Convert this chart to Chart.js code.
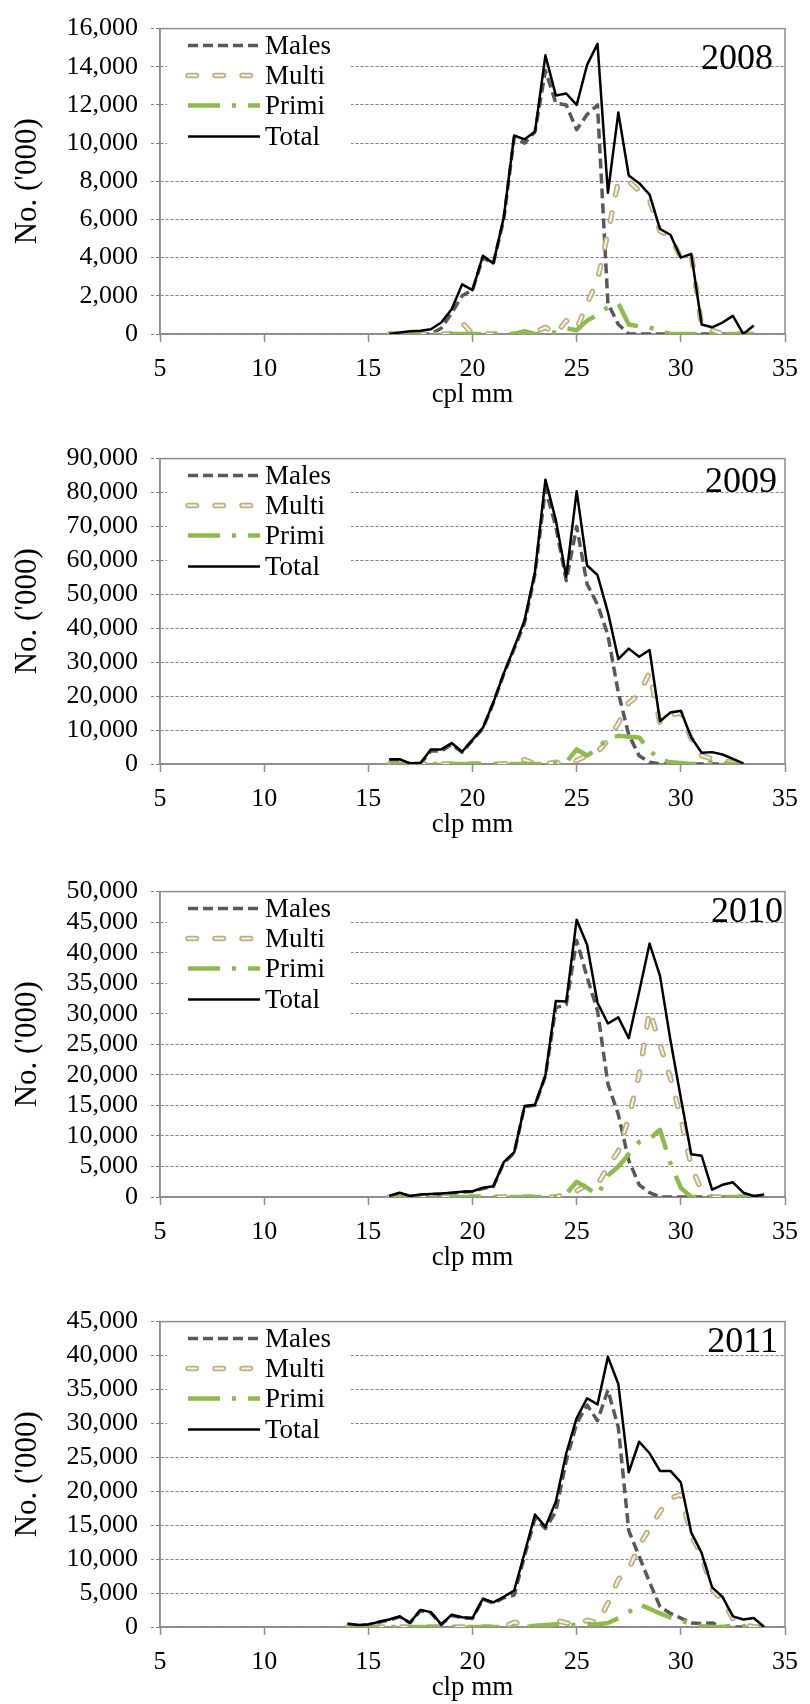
<!DOCTYPE html>
<html><head><meta charset="utf-8">
<script src="https://cdn.jsdelivr.net/npm/chart.js@4.4.1/dist/chart.umd.min.js"></script>
<style>
html,body{margin:0;padding:0;background:#fff;width:810px;height:1704px;overflow:hidden}
canvas{position:absolute;left:0}
</style></head><body>
<canvas id="c0" width="810" height="430" style="top:0px"></canvas>
<canvas id="c1" width="810" height="433" style="top:430px"></canvas>
<canvas id="c2" width="810" height="430" style="top:863px"></canvas>
<canvas id="c3" width="810" height="411" style="top:1293px"></canvas>
<script>
// ---------- data ----------
const years = ['2008', '2009', '2010', '2011'];
const xTitles = ['cpl mm', 'clp mm', 'clp mm', 'clp mm'];
const yTitle = "No. ('000)";
const seriesNames = ['Males', 'Multi', 'Primi', 'Total'];
const xMin = 5, xMax = 35, xStep = 5;
const yMaxes = [16000, 90000, 50000, 45000];
const ySteps = [2000, 10000, 5000, 5000];

const x2008 = [16,16.5,17,17.5,18,18.5,19,19.5,20,20.5,21,21.5,22,22.5,23,23.5,24,24.5,25,25.5,26,26.5,27,27.5,28,28.5,29,29.5,30,30.5,31,31.5,32,32.5,33,33.5];
const males2008 = [0,0,0,0,0,300,1100,2000,2300,4000,3700,6000,10300,10000,10600,13800,12100,12000,10700,11500,12000,1600,500,0,0,0,0,0,0,0,0,0,0,0,0,0];
const multi2008 = [0,0,0,0,0,0,0,600,0,0,0,0,0,0,100,350,0,700,250,1600,2800,5300,8000,8000,7500,7000,5400,5100,4000,4200,400,200,0,0,0,0];
const primi2008 = [0,0,0,0,0,0,0,0,0,0,0,0,0,150,0,0,100,300,200,700,1000,1400,1600,500,400,350,150,0,0,0,0,0,0,0,0,0];
const total2008 = [0,80,150,170,250,600,1300,2600,2300,4100,3700,6100,10400,10200,10600,14600,12500,12600,12000,14100,15200,7400,11600,8300,7900,7300,5500,5200,4000,4200,500,350,600,950,0,450];

const x2009 = [16,16.5,17,17.5,18,18.5,19,19.5,20,20.5,21,21.5,22,22.5,23,23.5,24,24.5,25,25.5,26,26.5,27,27.5,28,28.5,29,29.5,30,30.5,31,31.5,32,32.5,33];
const males2009 = [1000,1000,100,100,3800,3800,5800,3400,7000,10500,18000,26500,34000,41500,56000,81000,70000,54000,70000,53000,47000,38000,21000,8600,2400,500,0,0,0,0,0,0,0,0,0];
const multi2009 = [0,0,0,0,0,0,0,0,0,0,0,0,300,1300,0,0,500,0,1000,2500,3500,7000,12000,18000,20500,27000,12000,14500,15000,7500,2500,1500,1000,500,0];
const primi2009 = [0,0,0,0,0,0,0,0,0,0,0,0,0,0,0,0,300,500,4300,2500,4500,7600,8300,8000,7800,4000,1300,500,300,0,0,500,300,0,0];
const total2009 = [1400,1400,200,200,4300,4300,6200,3600,7100,10700,18100,26700,34300,42400,56600,83800,71900,55200,80400,58500,55700,44700,30900,34000,31600,33600,12600,15200,15700,7800,3300,3500,2800,1500,200];

const x2010 = [16,16.5,17,17.5,18,18.5,19,19.5,20,20.5,21,21.5,22,22.5,23,23.5,24,24.5,25,25.5,26,26.5,27,27.5,28,28.5,29,29.5,30,30.5,31,31.5,32,32.5,33,33.5,34];
const males2010 = [100,600,100,300,400,500,600,800,900,1400,1700,5600,7200,14800,15000,19800,31000,31500,42000,36000,30500,18500,13500,6000,2000,700,0,0,0,0,0,0,0,0,0,0,0];
const multi2010 = [0,0,0,0,0,0,0,0,0,0,0,0,0,0,0,0,0,500,1000,2000,2000,5000,7500,13000,20000,30500,25000,19500,13000,5000,1000,0,0,0,0,0,0];
const primi2010 = [0,0,0,0,0,0,0,0,0,0,0,0,0,0,0,0,0,500,2500,1500,300,3500,5000,7000,9000,9500,11000,5500,1500,0,0,0,0,0,0,0,0];
const total2010 = [160,700,160,400,500,580,700,850,950,1500,1750,5700,7300,14900,15100,19900,32100,32000,45400,41300,31800,28400,29400,26000,33600,41500,36200,25700,16200,7000,6750,1200,2000,2400,700,160,400];

const x2011 = [14,14.5,15,15.5,16,16.5,17,17.5,18,18.5,19,19.5,20,20.5,21,21.5,22,22.5,23,23.5,24,24.5,25,25.5,26,26.5,27,27.5,28,28.5,29,29.5,30,30.5,31,31.5,32,32.5,33,33.5,34];
const males2011 = [400,250,350,700,1000,1500,600,2400,2100,350,1700,1350,1250,4100,3500,4300,4700,10500,16000,14500,17000,24500,30000,32700,30400,34900,29400,14200,10400,6600,3000,2000,1300,600,500,600,0,0,0,0,0];
const multi2011 = [0,0,0,0,0,0,0,0,0,0,0,0,0,0,0,0,700,300,0,0,1000,600,300,1000,600,3500,7000,8500,12000,14500,17000,19000,19500,13500,10500,5500,4000,1200,400,0,0];
const primi2011 = [0,0,0,0,0,0,0,0,0,0,0,0,0,0,0,0,0,0,200,300,400,300,300,400,400,600,1300,2200,3300,2700,2000,1400,1000,400,100,0,0,200,100,0,0];
const total2011 = [480,290,380,760,1100,1570,620,2520,2190,380,1800,1430,1330,4190,3620,4430,5380,10900,16570,14760,18470,25600,30800,33700,32800,39800,35800,22800,27300,25600,23000,23000,21300,13900,10900,5850,4430,1570,1100,1330,0];

const panelX = [x2008, x2009, x2010, x2011];
const panelMales = [males2008, males2009, males2010, males2011];
const panelMulti = [multi2008, multi2009, multi2010, multi2011];
const panelPrimi = [primi2008, primi2009, primi2010, primi2011];
const panelTotal = [total2008, total2009, total2010, total2011];

// ---------- styles / layout ----------
const FONT = '"Liberation Serif", "Times New Roman", serif';
const PLOT_LEFT = 160, PLOT_RIGHT = 794, PLOT_TOP = 19, PLOT_BOTTOM = 334;
const yearPos = [{right: 773, base: 40}, {right: 777, base: 33}, {right: 783, base: 30}, {right: 778, base: 30}];
const styles = {
  Males: [{color: '#595959', width: 3.5, dash: [10, 5], cap: 'butt'}],
  Multi: [{color: '#bfae80', width: 5.5, dash: [8.5, 18.5], cap: 'round'},
          {color: '#f7f3e6', width: 2, dash: [8.5, 18.5], cap: 'round'}],
  Primi: [{color: '#8dbb4e', width: 4.5, dash: [32, 12, 4, 12], cap: 'butt'}],
  Total: [{color: '#000000', width: 2.5, dash: [], cap: 'butt'}]
};

function pts(xs, ys) { return xs.map((x, i) => ({x: x, y: ys[i]})); }
function ds(label, data, st) {
  return {label: label, data: data, borderColor: st.color, borderWidth: st.width,
    borderDash: st.dash, borderCapStyle: st.cap, borderJoinStyle: 'round',
    pointRadius: 0, fill: false, tension: 0};
}

const decor = {
  id: 'decor',
  beforeDatasetsDraw(chart, args, opts) {
    const {ctx, chartArea: a} = chart;
    ctx.save();
    ctx.fillStyle = '#fff';
    ctx.fillRect(a.left + 7, a.top + 1, 184, 124);
    ctx.strokeStyle = '#8c8c8c';
    ctx.lineWidth = 1.5;
    ctx.strokeRect(a.left, a.top, a.right - a.left, a.bottom - a.top);
    ctx.restore();
  },
  afterDatasetsDraw(chart, args, opts) {
    const {ctx, chartArea: a} = chart;
    const rows = [17, 47, 77, 108];
    ctx.save();
    seriesNames.forEach((name, i) => {
      const y = a.top + rows[i];
      styles[name].forEach(st => {
        ctx.beginPath();
        ctx.strokeStyle = st.color; ctx.lineWidth = st.width;
        ctx.setLineDash(st.dash); ctx.lineCap = st.cap;
        ctx.moveTo(188, y); ctx.lineTo(260, y); ctx.stroke();
      });
      ctx.setLineDash([]);
      ctx.fillStyle = '#000';
      ctx.font = '27px ' + FONT;
      ctx.textAlign = 'left'; ctx.textBaseline = 'middle';
      ctx.fillText(name, 265, y + 1);
    });
    ctx.font = '36px ' + FONT;
    ctx.textAlign = 'right'; ctx.textBaseline = 'alphabetic';
    ctx.fillText(opts.year, opts.right, a.top + opts.base);
    ctx.restore();
  }
};

Chart.defaults.font.family = FONT;
Chart.defaults.color = '#000';

for (let p = 0; p < 4; p++) {
  const canvas = document.getElementById('c' + p);
  const H = canvas.height;
  const xs = panelX[p];
  const datasets = [
    ds('Total', pts(xs, panelTotal[p]), styles.Total[0]),
    ds('Primi', pts(xs, panelPrimi[p]), styles.Primi[0]),
    ds('Multi', pts(xs, panelMulti[p]), styles.Multi[1]),
    ds('Multi', pts(xs, panelMulti[p]), styles.Multi[0]),
    ds('Males', pts(xs, panelMales[p]), styles.Males[0])
  ];
  new Chart(canvas, {
    type: 'line',
    data: {datasets: datasets},
    plugins: [decor],
    options: {
      responsive: false, animation: false, locale: 'en-US',
      layout: {padding: {top: PLOT_TOP, right: 810 - PLOT_RIGHT, left: 0, bottom: 0}},
      plugins: {
        legend: {display: false}, tooltip: {enabled: false},
        decor: {year: years[p], right: yearPos[p].right, base: yearPos[p].base}
      },
      scales: {
        x: {
          type: 'linear', min: xMin, max: xMax,
          ticks: {stepSize: xStep, autoSkip: false, font: {size: 26}, color: '#000', padding: 12, maxRotation: 0},
          grid: {drawOnChartArea: false, drawTicks: true, tickLength: 8, tickColor: '#8c8c8c', tickWidth: 1.5},
          border: {display: true, color: '#8c8c8c', width: 1.5},
          title: {display: true, text: xTitles[p], font: {size: 27, lineHeight: 1.2}, color: '#000',
                  padding: {top: 0, bottom: Math.max(0, H - 395 - 16.2)}},
          afterFit: s => { s.height = H - PLOT_BOTTOM; }
        },
        y: {
          min: 0, max: yMaxes[p],
          ticks: {stepSize: ySteps[p], autoSkip: false, font: {size: 26}, color: '#000', padding: 13},
          grid: {color: '#808080', lineWidth: 1, drawTicks: true, tickLength: 9,
                 tickColor: '#808080', tickWidth: 1, tickBorderDash: [3, 2]},
          border: {display: true, color: '#8c8c8c', width: 1.5, dash: [3, 2]},
          title: {display: true, text: yTitle, font: {size: 31, lineHeight: 1.2}, color: '#000',
                  padding: {top: 9, bottom: 0}},
          afterFit: s => { s.width = PLOT_LEFT; }
        }
      }
    }
  });
}
</script>
</body></html>
